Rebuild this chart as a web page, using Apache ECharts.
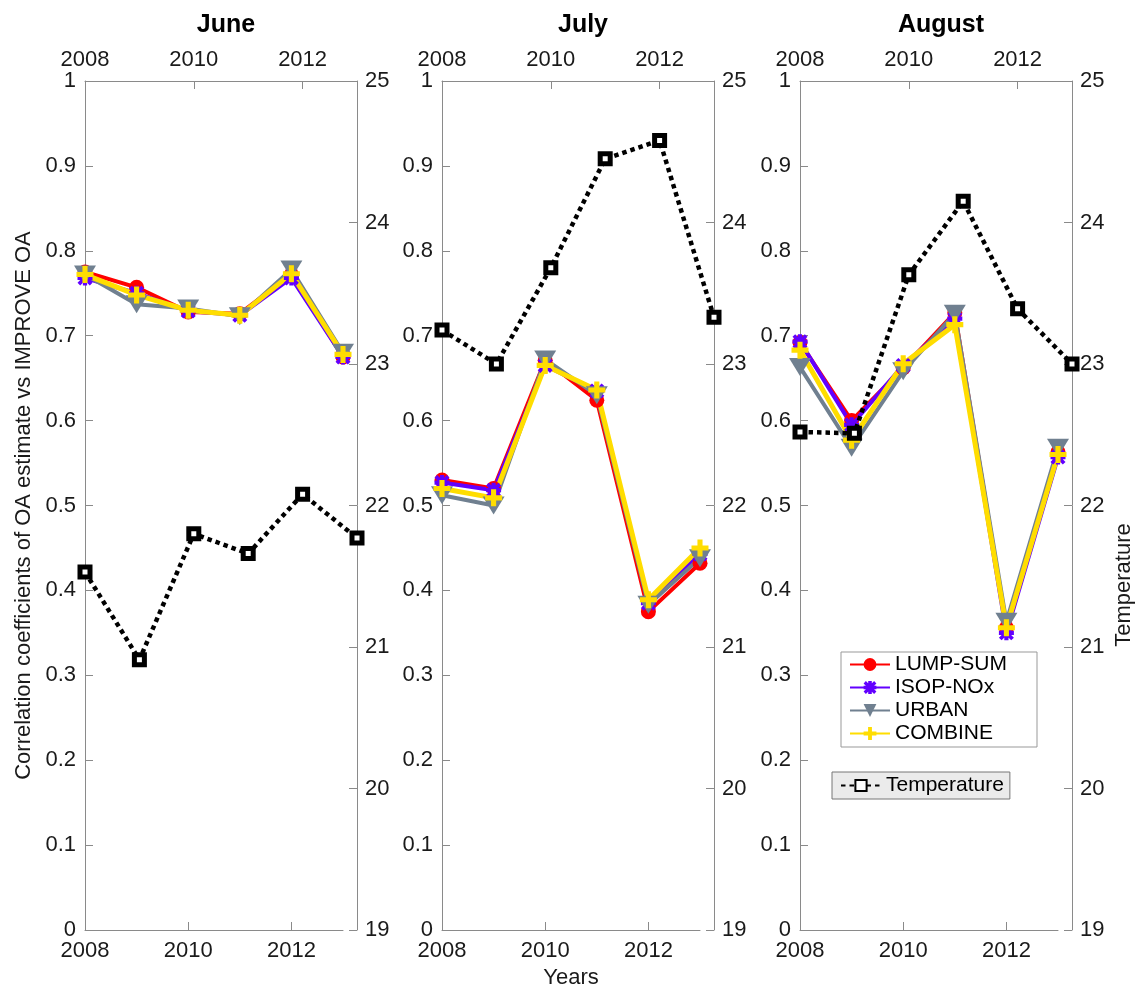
<!DOCTYPE html>
<html>
<head>
<meta charset="utf-8">
<script src="https://cdn.jsdelivr.net/npm/echarts@6/dist/echarts.min.js"></script>
<style>
html,body{margin:0;padding:0;background:#fff;}
#chart{width:1140px;height:990px;}
</style>
</head>
<body>
<div id="chart"></div>
<script>
// data
const years = [2008, 2009, 2010, 2011, 2012, 2013];
const months = ['June', 'July', 'August'];
const lumpSum = [
	[0.775, 0.757, 0.728, 0.726, 0.772, 0.675],
	[0.530, 0.520, 0.671, 0.624, 0.375, 0.432],
	[0.692, 0.600, 0.662, 0.727, 0.356, 0.563]
];
const isopNox = [
	[0.768, 0.750, 0.729, 0.724, 0.768, 0.675],
	[0.527, 0.518, 0.665, 0.635, 0.385, 0.443],
	[0.693, 0.595, 0.665, 0.720, 0.350, 0.557]
];
const urban = [
	[0.772, 0.737, 0.732, 0.723, 0.778, 0.680],
	[0.512, 0.500, 0.672, 0.630, 0.383, 0.438],
	[0.663, 0.568, 0.658, 0.726, 0.363, 0.568]
];
const combine = [
	[0.772, 0.748, 0.730, 0.724, 0.773, 0.678],
	[0.520, 0.509, 0.665, 0.636, 0.389, 0.450],
	[0.683, 0.577, 0.667, 0.713, 0.356, 0.560]
];
const temperature = [
	[21.53, 20.91, 21.80, 21.66, 22.08, 21.77],
	[23.24, 23.00, 23.68, 24.45, 24.58, 23.33],
	[22.52, 22.51, 23.63, 24.15, 23.39, 23.00]
];
const yearTicks = [2008, 2010, 2012];

const font = 'Liberation Sans, Arial, Helvetica, sans-serif';
const axisGray = '#8a8a8a';
const txt = '#1a1a1a';
const panelLeft = [85, 442, 800];
const corrWidth = 258, tempWidth = 272, gTop = 81, gHeight = 849;

const plusPath = 'path://M3.5,0H6.5V3.5H10V6.5H6.5V10H3.5V6.5H0V3.5H3.5Z';
const starPath = 'path://M3.6,0H6.4V10H3.6Z M0,3.6H10V6.4H0Z M1.8,0L10,8.2L8.2,10L0,1.8Z M8.2,0L10,1.8L1.8,10L0,8.2Z M2.5,2.5H7.5V7.5H2.5Z';

const models = [
	{name: 'LUMP-SUM', data: lumpSum, color: '#ff0000', symbol: 'circle', size: 15, width: 4},
	{name: 'ISOP-NOx', data: isopNox, color: '#6200ff', symbol: starPath, size: 15, width: 4},
	{name: 'URBAN', data: urban, color: '#708090', symbol: 'triangle', size: [22, 18], width: 4, rotate: 180},
	{name: 'COMBINE', data: combine, color: '#ffdd00', symbol: plusPath, size: 17, width: 5}
];

let grid = [], xAxis = [], yAxis = [], series = [], title = [];

months.forEach((m, p) => {
	let l = panelLeft[p];
	grid.push({left: l, top: gTop, width: corrWidth, height: gHeight, outerBoundsMode: 'none'});
	grid.push({left: l, top: gTop, width: tempWidth, height: gHeight, outerBoundsMode: 'none'});
	title.push({
		text: m, left: l + tempWidth / 2, top: 8, textAlign: 'center',
		textStyle: {fontFamily: font, fontSize: 25, fontWeight: 'bold', color: '#000'}
	});
	// bottom year axis (correlations)
	xAxis.push({
		type: 'value', gridIndex: 2 * p, position: 'bottom', min: 2008, max: 2013, interval: 2,
		axisLine: {lineStyle: {color: axisGray, width: 1}},
		axisTick: {inside: true, length: 8, lineStyle: {color: axisGray}, customValues: [2010, 2012]},
		axisLabel: {customValues: yearTicks, margin: 10, fontFamily: font, fontSize: 22, color: txt, formatter: v => String(v)},
		splitLine: {show: false},
		name: p == 1 ? 'Years' : '', nameLocation: 'middle', nameGap: 34,
		nameTextStyle: {fontFamily: font, fontSize: 22, color: txt}
	});
	// top year axis (temperature)
	xAxis.push({
		type: 'value', gridIndex: 2 * p + 1, position: 'top', min: 2008, max: 2013, interval: 2,
		axisLine: {lineStyle: {color: axisGray, width: 1}},
		axisTick: {inside: true, length: 8, lineStyle: {color: axisGray}, customValues: [2010, 2012]},
		axisLabel: {customValues: yearTicks, margin: 10, fontFamily: font, fontSize: 22, color: txt, formatter: v => String(v)},
		splitLine: {show: false}
	});
	yAxis.push({
		type: 'value', gridIndex: 2 * p, position: 'left', min: 0, max: 1, interval: 0.1,
		axisLine: {show: true, lineStyle: {color: axisGray, width: 1}},
		axisTick: {show: true, inside: true, length: 8, lineStyle: {color: axisGray}},
		axisLabel: {margin: 9, fontFamily: font, fontSize: 22, color: txt, formatter: v => String(+v.toFixed(1))},
		splitLine: {show: false},
		name: p == 0 ? 'Correlation coefficients of OA estimate vs IMPROVE OA' : '',
		nameLocation: 'middle', nameGap: 50, nameRotate: 90,
		nameTextStyle: {fontFamily: font, fontSize: 22, color: txt}
	});
	yAxis.push({
		type: 'value', gridIndex: 2 * p + 1, position: 'right', min: 19, max: 25, interval: 1,
		axisLine: {show: true, lineStyle: {color: axisGray, width: 1}},
		axisTick: {show: true, inside: true, length: 8, lineStyle: {color: axisGray}},
		axisLabel: {margin: 8, fontFamily: font, fontSize: 22, color: txt},
		splitLine: {show: false}
	});
	models.forEach(md => {
		series.push({
			name: md.name, type: 'line', xAxisIndex: 2 * p, yAxisIndex: 2 * p,
			data: years.map((y, i) => [y, md.data[p][i]]),
			symbol: md.symbol, symbolSize: md.size, symbolRotate: md.rotate || 0,
			lineStyle: {color: md.color, width: md.width},
			itemStyle: {color: md.color},
			z: 3
		});
	});
	series.push({
		name: 'Temperature', type: 'line', xAxisIndex: 2 * p + 1, yAxisIndex: 2 * p + 1,
		data: years.map((y, i) => [y, temperature[p][i]]),
		symbol: 'rect', symbolSize: 10,
		lineStyle: {color: '#000', width: 4.5, type: [4.5, 4]},
		itemStyle: {color: '#fff', borderColor: '#000', borderWidth: 5},
		z: 4
	});
});

let myChart = echarts.init(document.getElementById('chart'));
myChart.setOption({
	animation: false,
	backgroundColor: '#fff',
	title: title,
	grid: grid,
	xAxis: xAxis,
	yAxis: yAxis,
	series: series,
	legend: [
		{
			data: models.map(md => md.name), orient: 'vertical', left: 841, top: 652,
			itemWidth: 40, itemHeight: 16, itemGap: 2, padding: [2, 30, 3, 8],
			backgroundColor: '#fff', borderColor: '#999', borderWidth: 1, borderRadius: 0,
			textStyle: {fontFamily: font, fontSize: 21, color: '#000', lineHeight: 21},
			selectedMode: false
		},
		{
			data: ['Temperature'], left: 832, top: 772,
			itemWidth: 40, itemHeight: 14, padding: [3, 6, 3, 8],
			backgroundColor: '#ebebeb', borderColor: '#777', borderWidth: 1, borderRadius: 0,
			textStyle: {fontFamily: font, fontSize: 21, color: '#000'},
			selectedMode: false
		}
	],
	graphic: [{
		type: 'text', x: 1124, y: 585, rotation: Math.PI / 2,
		style: {text: 'Temperature', font: '22px ' + font, fill: txt, align: 'center', verticalAlign: 'middle'}
	}]
});
</script>
</body>
</html>
